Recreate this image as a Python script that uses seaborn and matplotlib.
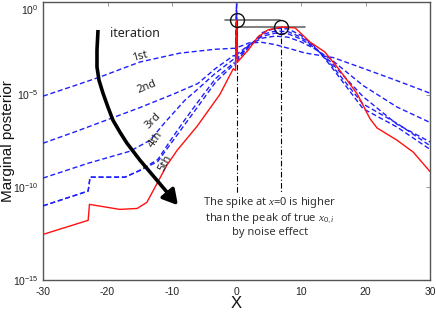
import numpy as np
import pandas as pd
import matplotlib
matplotlib.use("Agg")
import matplotlib.pyplot as plt
import matplotlib.transforms as mtransforms
import seaborn as sns
from matplotlib.path import Path
from matplotlib.patches import FancyArrowPatch
from matplotlib.ticker import NullLocator

# ---------------- data (log10 of marginal posterior) ----------------
true_x = [-30, -23.0, -22.8, -18.1, -15.4, -13.9, -12.3, -10.8, -9.2, -6.1, -2.6, -0.5,
          -0.15, 0, 0.15, 1.8, 3.3, 4.9, 7.0, 9.1, 11.4, 13.7, 16.0, 18.7, 20.7, 21.8,
          24.9, 27.4, 30]
true_log = [-12.54, -11.78, -10.92, -11.19, -11.14, -10.81, -9.78, -8.81, -8.0, -6.7, -5.0, -3.6,
            -3.7, -1.0, -3.24, -2.6, -1.9, -1.5, -1.35, -1.4, -2.16, -2.7, -3.68, -4.95, -6.3, -6.8,
            -7.46, -8.1, -9.15]

it1_x = [-30, -25, -21.2, -15, -8.8, -3.3, -0.5, -0.15, 0, 0.15, 2, 4, 6, 8.6, 10.6, 15, 20.2, 25.3, 30]
it1_log = [-5.08, -4.5, -4.05, -3.24, -2.76, -2.55, -2.5, -2.5, -1.6, -2.45, -2.2, -2.18, -2.3,
           -2.55, -2.75, -3.0, -3.65, -4.3, -4.92]

it2_x = [-30, -25, -20, -15, -10, -6, -3.3, -0.5, -0.15, 0, 0.15, 2, 4, 6, 8, 10, 12, 14.5, 19.6, 24.9, 30]
it2_log = [-7.62, -7.0, -6.35, -5.7, -5.0, -4.4, -3.6, -2.9, -2.9, -1.2, -2.8, -2.3, -1.95, -1.84,
           -1.9, -2.15, -2.5, -3.05, -4.5, -5.67, -6.5]

it3_x = [-30, -23, -16.5, -13.4, -11.1, -8, -6, -3.3, -0.5, -0.15, 0, 0.15, 2, 4, 6, 8, 10, 12,
         14.5, 19.6, 24.9, 30]
it3_log = [-9.5, -8.7, -8.05, -7.46, -6.5, -5.3, -4.7, -3.85, -3.1, -3.1, -0.8, -2.95, -2.3,
           -1.85, -1.68, -1.72, -2.0, -2.45, -3.2, -5.1, -6.6, -7.55]

it4_x = [-30, -23.0, -22.7, -17.3, -15.0, -12.2, -10.3, -8, -6, -3.3, -0.5, -0.15, 0, 0.15, 2, 4,
         6, 8, 10, 12, 14.5, 19.6, 24.9, 30]
it4_log = [-11.0, -10.2, -9.45, -9.45, -9.08, -8.5, -7.5, -6.35, -5.4, -4.15, -3.3, -3.3, -0.45,
           -3.05, -2.35, -1.75, -1.57, -1.6, -1.9, -2.4, -3.3, -5.5, -6.55, -7.75]

it5_x = [-30, -23.0, -22.7, -17.3, -15.0, -12.2, -10.3, -8, -6, -3.3, -0.5, -0.15, 0, 0.15, 2, 4, 6, 8,
         10, 12, 14.5, 19.6, 24.9, 30]
it5_log = [-11.0, -10.2, -9.45, -9.45, -9.1, -8.6, -7.7, -6.6, -5.65, -4.35, -3.4, -3.4, -0.1, -3.15,
           -2.4, -1.65, -1.42, -1.45, -1.8, -2.35, -3.4, -5.75, -6.75, -7.95]

iter_names = ["1st", "2nd", "3rd", "4th", "5th"]
iter_label_x = [-14.9, -13.9, -12.9, -12.5, -11.0]
iter_label_log = [-2.97, -4.6, -6.4, -7.4, -8.7]
iter_label_rot = [15, 22, 45, 55, 62]

peak_x = [0, 6.9]
peak_log = [-0.97, -1.35]

arrow_x = [-21.47, -21.63, -21.63, -21.32, -20.70, -19.92, -19.15, -18.06, -16.98, -14.96, -12.33, -9.07]
arrow_log = [-1.51, -2.59, -3.51, -4.22, -4.92, -5.68, -6.38, -7.03, -7.62, -8.54, -9.62, -10.97]

yticks_log = [0, -5, -10, -15]
xticks = [-30, -20, -10, 0, 10, 20, 30]

# ---------------- style ----------------
sns.set_style("white")
plt.rcParams["font.family"] = ["Liberation Sans", "DejaVu Sans"]
plt.rcParams["mathtext.fontset"] = "custom"
plt.rcParams["mathtext.rm"] = "Liberation Sans"
plt.rcParams["mathtext.it"] = "Liberation Serif:italic"
plt.rcParams["axes.unicode_minus"] = False

fig = plt.figure(figsize=(4.36, 3.17), dpi=100)
ax = fig.add_axes([43 / 436, 37 / 317, 387 / 436, 278 / 317])

BLUE = "#1f1fff"
RED = "#ff1010"

iters = [(it1_x, it1_log), (it2_x, it2_log), (it3_x, it3_log), (it4_x, it4_log), (it5_x, it5_log)]
for name, (xs, ls) in zip(iter_names, iters):
    df = pd.DataFrame({"x": xs, "p": np.power(10.0, ls)})
    sns.lineplot(data=df, x="x", y="p", ax=ax, color=BLUE, lw=1.0, sort=False,
                 estimator=None, dashes=False, zorder=3)
    ax.lines[-1].set_dashes((3.6, 2.0))

df_true = pd.DataFrame({"x": true_x, "p": np.power(10.0, true_log)})
sns.lineplot(data=df_true, x="x", y="p", ax=ax, color=RED, lw=1.0, sort=False,
             estimator=None, zorder=4)

ax.set_yscale("log")
ax.set_xlim(-30, 30)
ax.set_ylim(1e-15, 1e0)

# annotations
pk = np.power(10.0, peak_log)
ax.plot([-1.8, 6.7], [pk[0], pk[0]], color="#6a6a6a", lw=1.2, zorder=2)
ax.plot([0.2, 10.6], [pk[1], pk[1]], color="#6a6a6a", lw=1.2, zorder=2)
for xv, yv in zip(peak_x, pk):
    ax.plot([xv, xv], [yv, 10 ** -10.32], color="k", lw=0.8, ls=(0, (5, 2, 1, 2)), zorder=1)
ax.plot(peak_x, pk, "o", mfc="none", mec="#111111", ms=10, mew=1.0, zorder=6)

for nm, lx, ll, rot in zip(iter_names, iter_label_x, iter_label_log, iter_label_rot):
    ax.text(lx, 10 ** ll, nm, rotation=rot, fontsize=8, ha="center", va="center", color="#222222",
            family=["Noto Sans", "DejaVu Sans"], zorder=7)

ax.text(-19.6, 10 ** -1.68, "iteration", fontsize=9, ha="left", va="center", color="#222222",
        family=["Noto Sans", "DejaVu Sans"])

verts = list(zip(arrow_x, np.power(10.0, arrow_log)))
arr = FancyArrowPatch(path=Path(verts), arrowstyle="-|>,head_length=0.75,head_width=0.42",
                      mutation_scale=12, color="k", lw=2.6, joinstyle="round", capstyle="butt",
                      zorder=8)
ax.add_patch(arr)

ax.text(5.2, 10 ** -11.57,
        "The spike at $x$=0 is higher\nthan the peak of true $x_{0,i}$\nby noise effect",
        fontsize=8, ha="center", va="center", color="#333333", linespacing=1.15,
        family=["Noto Sans", "DejaVu Sans"])

# axes cosmetics
ax.set_xticks(xticks)
ax.set_xticklabels([str(t) for t in xticks])
ax.set_yticks(np.power(10.0, yticks_log))
ax.set_yticklabels([r"$10^{%d}$" % t for t in yticks_log])
ax.yaxis.set_minor_locator(NullLocator())
ax.tick_params(axis="both", which="major", direction="in", length=3, width=0.6, color="#888888",
               labelsize=7.5, labelcolor="#222222", top=True, right=True)
ax.tick_params(axis="y", pad=3)
ax.tick_params(axis="x", pad=5)
for sp in ax.spines.values():
    sp.set_color("#555555")
    sp.set_linewidth(1.0)

# shift the top y tick label down so it stays inside the figure (as in the reference)
ylabs = ax.get_yticklabels()
ylabs[0].set_transform(ylabs[0].get_transform() +
                       mtransforms.ScaledTranslation(0, -7 / 100, fig.dpi_scale_trans))

ax.set_xlabel("X", fontsize=12, color="#111111")
ax.xaxis.set_label_coords(0.5, -0.058)
ax.xaxis.label.set_va("top")
ax.set_ylabel("Marginal posterior", fontsize=11, color="#111111")
ax.yaxis.set_label_coords(-0.072, 0.5)

fig.savefig("out.png", dpi=100)
